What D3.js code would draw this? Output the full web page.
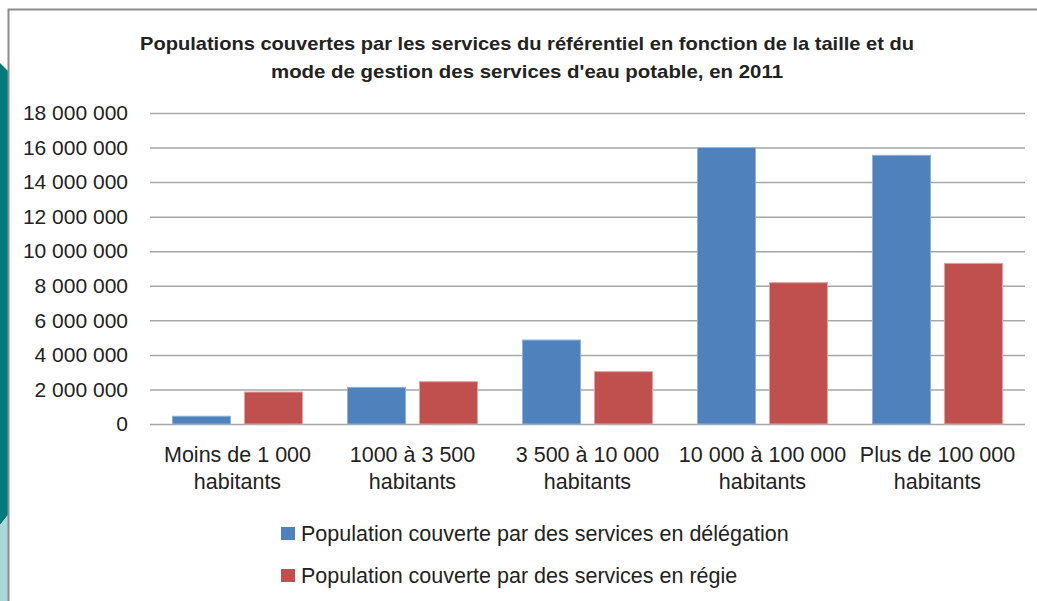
<!DOCTYPE html>
<html>
<head>
<meta charset="utf-8">
<script src="https://cdn.jsdelivr.net/npm/d3@7"></script>
<style>
  body { margin: 0; background: #fff; }
  text { font-family: "Liberation Sans", Arial, sans-serif; fill: #222; }
</style>
</head>
<body>
<script>
var width = 1037,
    height = 601;

// data
var categories = [
  ["Moins de 1 000", "habitants"],
  ["1000 à 3 500", "habitants"],
  ["3 500 à 10 000", "habitants"],
  ["10 000 à 100 000", "habitants"],
  ["Plus de 100 000", "habitants"]
];
var seriesNames = [
  "Population couverte par des services en délégation",
  "Population couverte par des services en régie"
];
var delegation = [450000, 2120000, 4860000, 16000000, 15550000];
var regie = [1850000, 2450000, 3030000, 8180000, 9300000];
var yTicks = [0, 2000000, 4000000, 6000000, 8000000, 10000000, 12000000, 14000000, 16000000, 18000000];
var titleLines = [
  "Populations  couvertes par les services du référentiel en fonction de la taille et du",
  "mode de gestion des services d'eau potable, en 2011"
];
var colors = ["#4F81BD", "#C0504D"];

var svg = d3.select("body").append("svg")
    .attr("width", width)
    .attr("height", height);

// slide decoration on the left
svg.append("path")
    .attr("d", "M0,63 L8,71 L8,515 L0,525 Z")
    .attr("fill", "#007B7B");
svg.append("path")
    .attr("d", "M0,525 L8,515 L8,601 L0,601 Z")
    .attr("fill", "#A9D8D8");

// chart frame
svg.append("rect")
    .attr("x", 8.5).attr("y", 9.5)
    .attr("width", 1100).attr("height", 700)
    .attr("fill", "#fff")
    .attr("stroke", "#8c8c8c")
    .attr("stroke-width", 2);

// title
svg.selectAll(".title")
  .data(titleLines)
  .enter().append("text")
    .attr("class", "title")
    .attr("x", 527)
    .attr("y", function(d, i) { return 50 + i * 28; })
    .attr("text-anchor", "middle")
    .attr("font-size", 19)
    .attr("font-weight", "bold")
    .attr("textLength", function(d, i) { return i == 0 ? 774 : 512; })
    .attr("lengthAdjust", "spacingAndGlyphs")
    .text(function(d) { return d; });

var x = d3.scaleBand()
    .domain(d3.range(categories.length))
    .range([150, 1025]);

var xSub = d3.scaleBand()
    .domain([0, 1])
    .range([0, x.bandwidth()])
    .paddingInner(0.194)
    .paddingOuter(0.3125);

var y = d3.scaleLinear()
    .domain([0, 18000000])
    .range([424, 113]);

var fmt = function(d) { return d3.format(",")(d).replace(/,/g, " "); };

// gridlines + labels
var yAxis = d3.axisLeft(y)
    .tickValues(yTicks)
    .tickSize(-(1025 - 150))
    .tickPadding(22)
    .tickFormat(fmt);

var gy = svg.append("g")
    .attr("transform", "translate(150,0)")
    .call(yAxis);
gy.select(".domain").remove();
gy.selectAll(".tick line")
    .attr("stroke", "#a6a6a6")
    .attr("stroke-width", 1.5);
gy.selectAll(".tick text")
    .attr("font-size", 21)
    .attr("fill", "#222")
    .attr("font-family", "Liberation Sans, Arial, sans-serif");

// bars
var data = categories.map(function(c, i) { return [delegation[i], regie[i]]; });

var groups = svg.selectAll(".cat")
  .data(data)
  .enter().append("g")
    .attr("class", "cat")
    .attr("transform", function(d, i) { return "translate(" + x(i) + ",0)"; });

groups.selectAll("rect")
  .data(function(d) { return d; })
  .enter().append("rect")
    .attr("x", function(d, j) { return xSub(j); })
    .attr("y", function(d) { return y(d); })
    .attr("width", xSub.bandwidth())
    .attr("height", function(d) { return y(0) - y(d); })
    .attr("fill", function(d, j) { return colors[j]; })
    .attr("stroke", function(d, j) { return j == 0 ? "#8fb1dc" : "#e0a3a1"; })
    .attr("stroke-width", 1);

// category labels
var cl = svg.selectAll(".clabel")
  .data(categories)
  .enter().append("text")
    .attr("class", "clabel")
    .attr("text-anchor", "middle")
    .attr("font-size", 21.5)
    .attr("x", function(d, i) { return x(i) + x.bandwidth() / 2; })
    .attr("y", 462);
cl.selectAll("tspan")
  .data(function(d) { return d; })
  .enter().append("tspan")
    .attr("x", function() { return d3.select(this.parentNode).attr("x"); })
    .attr("dy", function(d, i) { return i == 0 ? 0 : 27; })
    .text(function(d) { return d; });

// legend
var legend = svg.selectAll(".legend")
  .data(seriesNames)
  .enter().append("g")
    .attr("class", "legend")
    .attr("transform", function(d, i) { return "translate(281," + (527 + i * 42) + ")"; });
legend.append("rect")
    .attr("width", 14).attr("height", 13)
    .attr("fill", function(d, i) { return colors[i]; });
legend.append("text")
    .attr("x", 20)
    .attr("y", 14)
    .attr("font-size", 21.5)
    .text(function(d) { return d; });
</script>
</body>
</html>
